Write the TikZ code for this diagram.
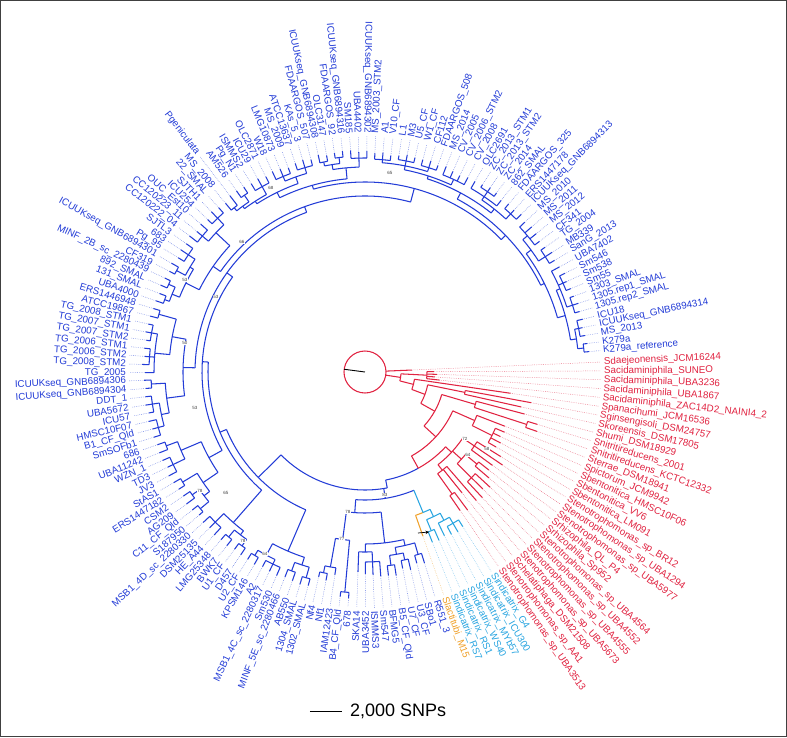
\documentclass[tikz,border=0pt]{standalone}
\usepackage{fontspec}
\setmainfont{Liberation Sans}
\usetikzlibrary{arrows.meta}
\definecolor{cBl}{RGB}{35,60,215}
\definecolor{cBlL}{RGB}{110,130,230}
\definecolor{cRd}{RGB}{225,35,65}
\definecolor{cRdL}{RGB}{235,110,130}
\definecolor{cCy}{RGB}{40,165,225}
\definecolor{cCyL}{RGB}{120,195,240}
\definecolor{cOr}{RGB}{240,160,40}
\definecolor{cOrL}{RGB}{245,195,120}
\newcommand\setcol[1]{\def\curbr{c#1}\def\curlead{c#1L}\def\curtext{c#1}}
\setcol{Bl}
\newcommand\tAng[2]{\pgfmathsetmacro#1{((#2)<84.0001) ? (5.2+2.108*((#2)-1)) : (180+2.146*((#2)-84))}}
\newcommand\tRad[3]{\tAng\tTa{#1}\draw[br] (\tTa:#2pt) -- (\tTa:#3pt);}
\newcommand\tArc[3]{\tAng\tTa{#2}\tAng\tTb{#3}\draw[br] (\tTa:#1pt) arc[start angle=\tTa, end angle=\tTb, radius=#1pt];}
\newcommand\tGrp[5]{\tArc{#1}{#2}{#3}\tRad{#5}{#4}{#1}}
\newcommand\tLeaf[3]{\tAng\tTa{#1}\draw[br] (\tTa:#2pt) -- (\tTa:#3pt); \draw[lead] (\tTa:#3pt) -- (\tTa:236pt);}
\newcommand\tLabR[3]{\tAng\tTa{#1}\pgfmathtruncatemacro\tFl{and(\tTa>89,\tTa<270.5)}%
\ifnum\tFl=1 \node[lab,text=\curtext,anchor=east,rotate=\tTa-180] (L#1) at (\tTa:#3pt) {#2};%
\else \node[lab,text=\curtext,anchor=west,rotate=\tTa] (L#1) at (\tTa:#3pt) {#2};\fi}
\newcommand\tLab[2]{\tLabR{#1}{#2}{238}}
\begin{document}
\begin{tikzpicture}[
  br/.style={draw=\curbr, line width=1.05pt},
  lead/.style={draw=\curlead, line width=0.5pt, dash pattern=on 0.6pt off 1.2pt},
  lab/.style={font=\fontsize{9.8}{12}\selectfont, inner sep=1pt},
  bs/.style={font=\fontsize{4.5}{5}\selectfont, text=black!75, fill=white, inner sep=0.3pt}]
\fill[white] (-365pt,-365pt) rectangle (422pt,372pt);
\useasboundingbox (-365pt,-365pt) rectangle (422pt,372pt);
\draw[black!75, line width=1pt] (-364.5pt,-364.5pt) rectangle (421.5pt,371.5pt);
% ---------------- blue clade ----------------
\setcol{Bl}
% S1
\tGrp{220}{1}{2}{214}{1.5}\tLeaf{1}{220}{225}\tLeaf{2}{220}{224}
\tGrp{218}{3}{5}{214}{4}\tLeaf{3}{218}{223}\tLeaf{4}{218}{222}\tLeaf{5}{218}{224}
\tGrp{214}{1.5}{4}{208}{2.75}
\tGrp{218}{6}{8}{212}{7}\tLeaf{6}{218}{223}\tLeaf{7}{218}{224}\tLeaf{8}{218}{222}
\tGrp{217}{9}{11}{212}{10}\tLeaf{9}{217}{222}\tLeaf{10}{217}{221}\tLeaf{11}{217}{223}
\tLeaf{12}{212}{221}
\tGrp{212}{7}{12}{208}{9.5}
\tGrp{208}{2.75}{9.5}{200}{6}
\tGrp{214}{13}{15}{206}{14}\tLeaf{13}{214}{220}\tLeaf{14}{214}{222}\tLeaf{15}{214}{219}
\tGrp{212}{16}{19}{206}{17.5}\tLeaf{16}{212}{218}\tLeaf{17}{212}{220}\tLeaf{18}{212}{221}\tLeaf{19}{212}{219}
\tGrp{206}{14}{17.5}{200}{15.75}
\tGrp{200}{6}{15.75}{196}{11}
\tGrp{215}{20}{22}{208}{21}\tLeaf{20}{215}{222}\tLeaf{21}{215}{220}\tLeaf{22}{215}{221}
\tGrp{218}{24}{26}{212}{25}\tLeaf{24}{218}{222}\tLeaf{25}{218}{223}\tLeaf{26}{218}{221}
\tLeaf{23}{212}{219}\tLeaf{27}{212}{220}
\tGrp{212}{23}{27}{208}{25}
\tGrp{208}{21}{25}{203}{23}
\tGrp{212}{28}{31}{206}{29.5}\tLeaf{28}{212}{220}\tLeaf{29}{212}{218}\tLeaf{30}{212}{219}\tLeaf{31}{212}{221}
\tGrp{214}{32}{34}{210}{33}\tLeaf{32}{214}{219}\tLeaf{33}{214}{221}\tLeaf{34}{214}{220}
\tGrp{215}{35}{37}{210}{36}\tLeaf{35}{215}{220}\tLeaf{36}{215}{221}\tLeaf{37}{215}{219}
\tGrp{213}{38}{40}{210}{39}\tLeaf{38}{213}{218}\tLeaf{39}{213}{220}\tLeaf{40}{213}{219}
\tGrp{210}{33}{39}{206}{36}
\tGrp{206}{29.5}{36}{203}{32.75}
\tGrp{203}{23}{32.75}{196}{27.9}
\tGrp{196}{11}{27.9}{190}{19.5}
% S2
\tGrp{214}{41}{43}{205}{42}\tLeaf{41}{214}{221}\tLeaf{42}{214}{220}\tLeaf{43}{214}{222}
\tGrp{216}{44}{45}{210}{44.5}\tLeaf{44}{216}{222}\tLeaf{45}{216}{221}
\tGrp{214}{46}{47}{210}{46.5}\tLeaf{46}{214}{220}\tLeaf{47}{214}{222}
\tGrp{210}{44.5}{46.5}{205}{45.5}
\tGrp{205}{42}{45.5}{194}{43.75}
\tGrp{213}{48}{50}{207}{49}\tLeaf{48}{213}{219}\tLeaf{49}{213}{221}\tLeaf{50}{213}{220}
\tGrp{212}{51}{53}{207}{52}\tLeaf{51}{212}{218}\tLeaf{52}{212}{220}\tLeaf{53}{212}{221}
\tGrp{207}{49}{52}{200}{50.5}
\tGrp{212}{54}{56}{203}{55}\tLeaf{54}{212}{219}\tLeaf{55}{212}{221}\tLeaf{56}{212}{220}
\tGrp{214}{57}{58}{206}{57.5}\tLeaf{57}{214}{221}\tLeaf{58}{214}{222}
\tGrp{210}{59}{60}{206}{59.5}\tLeaf{59}{210}{222}\tLeaf{60}{210}{219}
\tAng\tTa{59}\draw[lead] (\tTa:236pt) -- (\tTa:272pt);
\tGrp{206}{57.5}{59.5}{203}{58.5}
\tGrp{203}{55}{58.5}{200}{56.75}
\tGrp{200}{50.5}{56.75}{194}{53.6}
\tGrp{194}{43.75}{53.6}{190}{48.7}
\tGrp{190}{19.5}{48.7}{176}{34.1}
% S3
\tGrp{213}{61}{63}{204}{62}\tLeaf{61}{213}{220}\tLeaf{62}{213}{222}\tLeaf{63}{213}{219}
\tGrp{212}{64}{66}{204}{65}\tLeaf{64}{212}{221}\tLeaf{65}{212}{219}\tLeaf{66}{212}{222}
\tGrp{204}{62}{65}{185}{63.5}
\tGrp{212}{67}{69}{204}{68}\tLeaf{67}{212}{220}\tLeaf{68}{212}{221}\tLeaf{69}{212}{219}
\tGrp{214}{70}{71}{204}{70.5}\tLeaf{70}{214}{222}\tLeaf{71}{214}{220}
\tGrp{204}{68}{70.5}{200}{69.25}
\tGrp{215}{72}{73}{208}{72.5}\tLeaf{72}{215}{221}\tLeaf{73}{215}{222}
\tGrp{213}{74}{75}{208}{74.5}\tLeaf{74}{213}{220}\tLeaf{75}{213}{221}
\tGrp{208}{72.5}{74.5}{200}{73.5}
\tGrp{200}{69.25}{73.5}{185}{71.4}
\tGrp{185}{63.5}{71.4}{176}{67.4}
\tGrp{176}{34.1}{67.4}{170}{50.75}
% S4
\tGrp{214}{76}{77}{196}{76.5}\tLeaf{76}{214}{221}\tLeaf{77}{214}{222}
\tGrp{217}{78}{80}{211}{79}\tLeaf{78}{217}{222}\tLeaf{79}{217}{223}\tLeaf{80}{217}{221}
\tGrp{216}{81}{83}{211}{82}\tLeaf{81}{216}{222}\tLeaf{82}{216}{221}\tLeaf{83}{216}{223}
\tLeaf{84}{211}{220}
\tGrp{211}{79}{84}{196}{81.5}
\tGrp{196}{76.5}{81.5}{182}{79}
\tGrp{214}{85}{86}{200}{85.5}\tLeaf{85}{214}{221}\tLeaf{86}{214}{220}
\tGrp{215}{87}{89}{208}{88}\tLeaf{87}{215}{221}\tLeaf{88}{215}{222}\tLeaf{89}{215}{220}
\tGrp{214}{90}{92}{208}{91}\tLeaf{90}{214}{222}\tLeaf{91}{214}{220}\tLeaf{92}{214}{221}
\tGrp{208}{88}{91}{200}{89.5}
\tGrp{200}{85.5}{89.5}{182}{87.5}
\tGrp{182}{79}{87.5}{170}{83.25}
\tGrp{170}{50.75}{83.25}{163}{67}
% S5
\tGrp{212}{93}{94}{200}{93.5}\tLeaf{93}{212}{220}\tLeaf{94}{212}{221}
\tGrp{213}{95}{97}{200}{96}\tLeaf{95}{213}{221}\tLeaf{96}{213}{219}\tLeaf{97}{213}{222}
\tGrp{200}{93.5}{96}{178}{94.75}
\tGrp{213}{98}{99}{196}{98.5}\tLeaf{98}{213}{221}\tLeaf{99}{213}{220}
\tGrp{212}{100}{101}{203}{100.5}\tLeaf{100}{212}{220}\tLeaf{101}{212}{222}
\tGrp{214}{102}{103}{203}{102.5}\tLeaf{102}{214}{221}\tLeaf{103}{214}{219}
\tGrp{203}{100.5}{102.5}{196}{101.5}
\tGrp{196}{98.5}{101.5}{178}{100}
\tGrp{178}{94.75}{100}{163}{97.4}
\tGrp{163}{67}{97.4}{157}{82.2}
% S6a
\tGrp{212}{104}{106}{200}{105}\tLeaf{104}{212}{221}\tLeaf{105}{212}{220}\tLeaf{106}{212}{222}
\tGrp{214}{107}{108}{205}{107.5}\tLeaf{107}{214}{221}\tLeaf{108}{214}{222}
\tGrp{213}{109}{110}{205}{109.5}\tLeaf{109}{213}{220}\tLeaf{110}{213}{221}
\tGrp{205}{107.5}{109.5}{200}{108.5}
\tGrp{200}{105}{108.5}{157}{106.75}
\tGrp{157}{82.2}{106.75}{150}{94.5}
% S6b
\tGrp{214}{111}{112}{208}{111.5}\tLeaf{111}{214}{221}\tLeaf{112}{214}{222}
\tGrp{213}{113}{115}{208}{114}\tLeaf{113}{213}{220}\tLeaf{114}{213}{221}\tLeaf{115}{213}{222}
\tGrp{208}{111.5}{114}{195}{112.75}
\tGrp{212}{116}{117}{203}{116.5}\tLeaf{116}{212}{220}\tLeaf{117}{212}{221}
\tGrp{214}{118}{119}{203}{118.5}\tLeaf{118}{214}{222}\tLeaf{119}{214}{221}
\tGrp{203}{116.5}{118.5}{195}{117.5}
\tGrp{195}{112.75}{117.5}{150}{115.1}
\tGrp{150}{94.5}{115.1}{118}{104.8}
\tGrp{118}{104.8}{131}{110}{131}
% S7
\tGrp{205}{120}{121}{198}{120.5}\tLeaf{120}{205}{210}\tLeaf{121}{205}{212}
\tLeaf{122}{198}{205}
\tGrp{198}{120.5}{122}{169}{121.25}
\tGrp{221}{123}{124}{169}{123.5}\tLeaf{123}{221}{226}\tLeaf{124}{221}{227}
\tGrp{169}{121.25}{123.5}{141}{122.4}
\tLeaf{125}{180}{200}
\tGrp{190}{126}{128}{180}{127}\tLeaf{126}{190}{202}\tLeaf{127}{190}{203}\tLeaf{128}{190}{205}
\tGrp{180}{125}{127}{172}{126}
\tGrp{195}{129}{130}{185}{129.5}\tLeaf{129}{195}{205}\tLeaf{130}{195}{206}
\tGrp{192}{131}{132}{185}{131.5}\tLeaf{131}{192}{200}\tLeaf{132}{192}{203}
\tGrp{185}{129.5}{131.5}{178}{130.5}
\tGrp{190}{133}{134}{178}{133.5}\tLeaf{133}{190}{198}\tLeaf{134}{190}{200}
\tGrp{178}{130.5}{133.5}{172}{132}
\tGrp{172}{126}{132}{141}{129}
\tGrp{141}{122.4}{129}{128}{124}
\tGrp{128}{124}{136.4}{118}{130.2}
\tArc{110}{131}{139.45}
% ---------------- orange / cyan ----------------
\setcol{Or}
\tArc{152}{135}{136.4}\tLeaf{135}{152}{174}
\setcol{Cy}
\tRad{136.4}{128}{152}\tArc{152}{136.4}{137.75}
\tGrp{172}{136}{137}{160}{136.5}\tLeaf{136}{172}{183}\tLeaf{137}{172}{184}
\tGrp{175}{139}{141}{168}{140}\tLeaf{139}{175}{184}\tLeaf{140}{175}{185}\tLeaf{141}{175}{183}
\tLeaf{138}{168}{182}
\tGrp{168}{138}{140}{160}{139}
\tGrp{160}{136.5}{139}{152}{137.75}
% ---------------- red clade ----------------
\setcol{Rd}
\tArc{110}{139.45}{147.9}
\tRad{139.45}{96}{110}
\tGrp{150}{142}{143}{125}{142.5}\tLeaf{142}{150}{168}\tLeaf{143}{150}{172}
\tLeaf{144}{125}{155}\tLeaf{145}{125}{170}
\tGrp{125}{142.5}{145}{118}{143.75}
\tGrp{150}{146}{148}{130}{147}\tLeaf{146}{150}{172}\tLeaf{147}{150}{166}\tLeaf{148}{150}{170}
\tGrp{145}{149}{150}{130}{149.5}\tLeaf{149}{145}{163}\tLeaf{150}{145}{158}
\tGrp{130}{147}{149.5}{118}{148.25}
\tGrp{132}{151}{153}{118}{152}\tLeaf{151}{132}{158}\tLeaf{152}{132}{166}\tLeaf{153}{132}{160}
\tGrp{118}{143.75}{152}{110}{147.9}
\tGrp{96}{139.45}{156.75}{80}{148.1}
\tGrp{142}{154}{157}{120}{155.5}\tLeaf{154}{142}{151}\tLeaf{155}{142}{153}\tLeaf{156}{142}{150}\tLeaf{157}{142}{152}
\tLeaf{158}{120}{150}
\tGrp{120}{155.5}{158}{96}{156.75}
\tGrp{80}{148.1}{160.25}{64}{154.2}
\tGrp{170}{159}{160}{115}{159.5}\tLeaf{159}{170}{182}\tLeaf{160}{170}{180}
\tLeaf{161}{115}{165}
\tGrp{115}{159.5}{161}{80}{160.25}
\tGrp{64}{154.2}{162.5}{50}{158.35}
\tGrp{102}{162}{163}{64}{162.5}\tLeaf{162}{102}{160}\tLeaf{163}{102}{169}
\tGrp{50}{158.35}{164}{36}{161.2}
\tLeaf{164}{50}{147}
\tGrp{36}{161.2}{166.5}{21}{163.85}
\tGrp{62}{165}{168}{36}{166.5}\tLeaf{165}{62}{75}\tLeaf{166}{62}{70}\tLeaf{167}{62}{72}\tLeaf{168}{62}{69}
\tLeaf{169}{21}{47}
\coordinate (ctr) at (0,0);
\draw[br] (ctr) circle[radius=21pt];
\draw[black, line width=0.9pt] (ctr) -- (172.5:21pt);
% ---------------- labels ----------------
\setcol{Bl}
\tLab{1}{K279a\_reference}\tLab{2}{K279a}\tLab{3}{MS\_2013}\tLab{4}{ICUUKseq\_GNB6894314}
\tLab{5}{ICU18}\tLab{6}{1305.rep2\_SMAL}\tLab{7}{1305.rep1\_SMAL}\tLab{8}{1303\_SMAL}
\tLab{9}{Sm55}\tLab{10}{Sm538}\tLab{11}{Sm546}\tLab{12}{UBA7402}\tLab{13}{SanG\_2013}
\tLab{14}{MB339}\tLab{15}{TG\_2004}\tLab{16}{CF341}\tLab{17}{MS\_2012}\tLab{18}{MS\_2011}
\tLab{19}{MS\_2010}\tLab{20}{ICUUKseq\_GNB6894313}\tLab{21}{ERS1447178}\tLab{22}{FDAARGOS\_325}
\tLab{23}{862\_SMAL}\tLab{24}{ZC\_2014}\tLab{25}{ZC\_2013\_STM2}\tLab{26}{ZC\_2013\_STM1}
\tLab{27}{OLC2691}\tLab{28}{CV\_2008}\tLab{29}{CV\_2006\_STM2}\tLab{30}{CV\_2005}
\tLab{31}{MS\_2014}\tLab{32}{FDAARGOS\_508}\tLab{33}{CF112}\tLab{34}{W1\_CF}\tLab{35}{U5\_CF}
\tLab{36}{M3}\tLab{37}{L1}\tLab{38}{V10\_CF}\tLab{39}{A1}\tLab{40}{MS\_2003\_STM2}
\tLab{41}{ICUUKseq\_GNB6894302}\tLab{42}{UBA4402}\tLab{43}{SM185}\tLab{44}{ICUUKseq\_GNB6894316}
\tLab{45}{FDAARGOS\_92}\tLab{46}{OLC3147}\tLab{47}{ICUUKseq\_GNB6894308}\tLab{48}{FDAARGOS\_507}
\tLab{49}{KAs\_5\_3}\tLab{50}{ATCC13637}\tLab{51}{MS\_2009}\tLab{52}{LMG10873}\tLab{53}{W18}
\tLab{54}{OLC2871}\tLab{55}{ICU29}\tLab{56}{ISMMS2}\tLab{57}{Pg\_N1}\tLab{58}{AM526}
\tLabR{59}{Pgeniculata}{274}\tLab{60}{MS\_2008}\tLab{61}{22\_SMAL}\tLab{62}{SJTH1}\tLab{63}{ICU254}
\tLab{64}{OUC\_Est10}\tLab{65}{CC120223\_11}\tLab{66}{CC120222\_04}\tLab{67}{SJTL3}\tLab{68}{683}
\tLab{69}{Pg\_95}\tLab{70}{ICUUKseq\_GNB6894301}\tLab{71}{CF319}\tLab{72}{MINF\_2B\_sc\_2280439}
\tLab{73}{892\_SMAL}\tLab{74}{131\_SMAL}\tLab{75}{UBA4000}\tLab{76}{ERS1446948}\tLab{77}{ATCC19867}
\tLab{78}{TG\_2008\_STM1}\tLab{79}{TG\_2007\_STM1}\tLab{80}{TG\_2007\_STM2}\tLab{81}{TG\_2006\_STM1}
\tLab{82}{TG\_2006\_STM2}\tLab{83}{TG\_2008\_STM2}\tLab{84}{TG\_2005}\tLab{85}{ICUUKseq\_GNB6894306}
\tLab{86}{ICUUKseq\_GNB6894304}\tLab{87}{DDT\_1}\tLab{88}{UBA5672}\tLab{89}{ICU57}
\tLab{90}{HMSC10F07}\tLab{91}{B1\_CF\_Qld}\tLab{92}{SmSOFb1}\tLab{93}{686}\tLab{94}{UBA11242}
\tLab{95}{WZN\_1}\tLab{96}{TD3}\tLab{97}{JV3}\tLab{98}{StAS1}\tLab{99}{ERS1447182}\tLab{100}{CSM2}
\tLab{101}{AG209}\tLab{102}{C11\_CF\_Qld}\tLab{103}{S187950}\tLab{104}{MSB1\_4D\_sc\_2280330}
\tLab{105}{DSM25135}\tLab{106}{HE\_A44}\tLab{107}{LMG25348}\tLab{108}{BWK7}\tLab{109}{U1\_CF}
\tLab{110}{D457}\tLab{111}{U2\_CF}\tLab{112}{KPSM146}\tLab{113}{A2}\tLab{114}{MSB1\_4C\_sc\_2280317}
\tLab{115}{Sm530}\tLab{116}{MINF\_5E\_sc\_2280466}\tLab{117}{AB550}\tLab{118}{1304\_SMAL}
\tLab{119}{1302\_SMAL}\tLab{120}{Nf4}\tLab{121}{Nf1}\tLab{122}{IAM12423}\tLab{123}{B4\_CF\_Qld}
\tLab{124}{678}\tLab{125}{SKA14}\tLab{126}{UBA3452}\tLab{127}{ISMMS3}\tLab{128}{Sm547}
\tLab{129}{BFMG5}\tLab{130}{B5\_CF\_Qld}\tLab{131}{U7\_CF}\tLab{132}{U3\_CF}\tLab{133}{SBo1}
\tLab{134}{R551\_3}
\setcol{Or}
\tLab{135}{Slactitubi\_M15}
\setcol{Cy}
\tLab{136}{Sindicatrix\_RS7}\tLab{137}{Sindicatrix\_RS1}\tLab{138}{Sindicatrix\_WS40}
\tLab{139}{Sindicatrix\_MYb57}\tLab{140}{Sindicatrix\_ICU300}\tLab{141}{Sindicatrix\_G4}
\setcol{Rd}
\tLab{142}{Stenotrophomonas\_sp\_UBA3513}\tLab{143}{Stenotrophomonas\_sp\_AA1}
\tLab{144}{Schelatiphaga\_DSM21508}\tLab{145}{Stenotrophomonas\_sp\_UBA5673}
\tLab{146}{Stenotrophomonas\_sp\_UBA4555}\tLab{147}{Stenotrophomonas\_sp\_UBA4552}
\tLab{148}{Stenotrophomonas\_sp\_UBA4564}\tLab{149}{Srhizophila\_Sp952}
\tLab{150}{Srhizophila\_QL\_P4}\tLab{151}{Stenotrophomonas\_sp\_UBA5977}
\tLab{152}{Stenotrophomonas\_sp\_UBA1294}\tLab{153}{Stenotrophomonas\_sp\_BR12}
\tLab{154}{Sbentonitica\_LM091}\tLab{155}{Sbentonitica\_VV6}\tLab{156}{Sbentonitica\_HMSC10F06}
\tLab{157}{Spictorum\_JCM9942}\tLab{158}{Sterrae\_DSM18941}\tLab{159}{Snitritireducens\_KCTC12332}
\tLab{160}{Snitritireducens\_2001}\tLab{161}{Shumi\_DSM18929}\tLab{162}{Skoreensis\_DSM17805}
\tLab{163}{Sginsengisoli\_DSM24757}\tLab{164}{Spanacihumi\_JCM16536}
\tLab{165}{Sacidaminiphila\_ZAC14D2\_NAINI4\_2}\tLab{166}{Sacidaminiphila\_UBA1867}
\tLab{167}{Sacidaminiphila\_UBA3236}\tLab{168}{Sacidaminiphila\_SUNEO}\tLab{169}{Sdaejeonensis\_JCM16244}
% ---------------- support values ----------------
\node[bs] (b1) at (25pt,199pt) {65};
\node[bs] (b2) at (-94pt,184pt) {68};
\node[bs] (b3) at (-123pt,130pt) {66};
\node[bs] (b4) at (-180pt,92pt) {53};
\node[bs] (b5) at (-149pt,75pt) {53};
\node[bs] (b6) at (-180pt,29pt) {50};
\node[bs] (b7) at (-170pt,-36pt) {53};
\node[bs] (b8) at (-165pt,-119pt) {78};
\node[bs] (b9) at (-139pt,-121pt) {65};
\node[bs] (b10) at (-122pt,-169pt) {78};
\node[bs] (b11) at (-100pt,-182pt) {64};
\node[bs] (b12) at (-23pt,-167pt) {77};
\node[bs] (b13) at (-17pt,-140pt) {78};
\node[bs] (b14) at (20pt,-123pt) {83};
\node[bs] (b15) at (100pt,-67pt) {72};
\node[bs] (b16) at (122pt,-77pt) {58};
\node[bs] (b17) at (103pt,-83pt) {64};
% arrow
\coordinate (arA) at (53pt,-161pt);
\coordinate (arB) at (64pt,-160pt);
\draw[black, line width=0.7pt, -{Stealth[length=3.5pt,width=3.5pt]}] (arA) -- (arB);
% scale bar
\coordinate (sbA) at (-55pt,-339pt);
\coordinate (sbB) at (-23pt,-339pt);
\draw[black, line width=0.9pt] (sbA) -- (sbB);
\node[anchor=west, font=\fontsize{18}{20}\selectfont, inner sep=0pt] (sbt) at (-15pt,-339pt) {2,000 SNPs};
\end{tikzpicture}
\end{document}
